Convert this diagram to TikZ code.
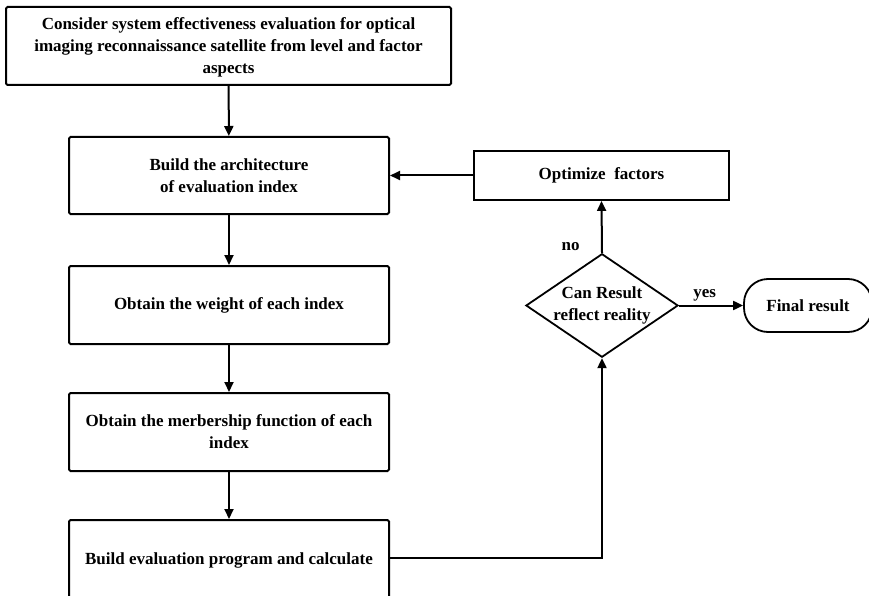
\documentclass[tikz,border=0pt]{standalone}
\usepackage{fontspec}
\setmainfont{Liberation Serif}
\usetikzlibrary{arrows.meta,shapes.geometric}
\begin{document}
\begin{tikzpicture}[x=1pt,y=-1pt,
  txt/.style={font=\fontsize{17}{22}\selectfont\bfseries},
  stepbox/.style={draw,line width=2pt,rounded corners=1.5pt,align=center,
    inner sep=0pt,txt},
  flow/.style={line width=2pt,-{Triangle[length=10pt,width=9pt]}}]
\useasboundingbox (0,0) rectangle (869,596);
\clip (0,0) rectangle (869,596);
% main column of steps
\node[stepbox,minimum width=445pt,minimum height=78pt,text depth=-2pt] (s0) at (228.5,46)
  {Consider system effectiveness evaluation for optical\\imaging reconnaissance satellite from level and factor\\aspects};
\node[stepbox,minimum width=320pt,minimum height=77pt] (s1) at (229,175.5)
  {Build the architecture\\of evaluation index};
\node[stepbox,minimum width=320pt,minimum height=78pt] (s2) at (229,305)
  {Obtain the weight of each index};
\node[stepbox,minimum width=320pt,minimum height=78pt] (s3) at (229,432)
  {Obtain the merbership function of each\\index};
\node[stepbox,minimum width=320pt,minimum height=80pt] (s4) at (229,560)
  {\raisebox{2pt}{Build evaluation program and calculate}};
% feedback branch
\node[draw,line width=1.8pt,minimum width=255pt,minimum height=49pt,inner sep=0pt,txt]
  (opt) at (601.5,175.5) {Optimize~~factors};
\node[draw,diamond,line width=1.8pt,minimum width=151pt,minimum height=103pt,
  inner sep=0pt,aspect=1.47,align=center,txt] (dec) at (602,305.5)
  {Can Result\\reflect reality};
\node[draw,line width=1.8pt,rounded corners=24pt,minimum width=128pt,minimum height=53pt,
  inner sep=0pt,txt] (fin) at (808,305.5) {Final result};
% connectors
\draw[flow] (s0) -- (s1);
\draw[flow] (s1) -- (s2);
\draw[flow] (s2) -- (s3);
\draw[flow] (s3) -- (s4);
\draw[flow] (opt.west) -- (opt.west -| s1.east);
\draw[flow] (dec.north) -- (opt.south) node[txt,pos=0.12,left=18pt] {no};
\draw[flow] (dec.east) -- (fin.west) node[txt,pos=0.4,above=0pt] {yes};
\draw[flow] (s4.east |- 0,558) -| (dec.south);
\end{tikzpicture}
\end{document}
